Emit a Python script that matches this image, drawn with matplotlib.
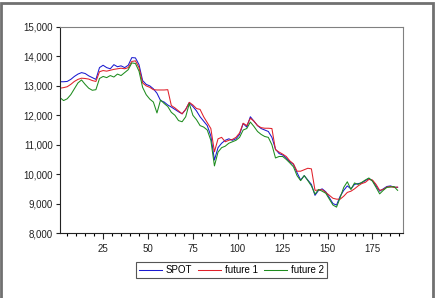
import matplotlib.pyplot as plt
import numpy as np
from matplotlib.patches import Rectangle
from matplotlib.ticker import MultipleLocator, StrMethodFormatter

plt.rcParams['font.family'] = ['Liberation Sans', 'DejaVu Sans']

t = np.arange(1, 190, 2)

spot = [13140, 13140, 13150, 13220, 13320, 13400, 13450, 13420, 13340, 13280,
        13220, 13620, 13700, 13620, 13580, 13720, 13650, 13680, 13620, 13700,
        13960, 13950, 13720, 13180, 13050, 13000, 12900, 12750, 12500, 12450,
        12350, 12280, 12200, 12120, 12050, 12200, 12430, 12300, 12150, 11950,
        11800, 11650, 11300, 10480, 10900, 11050, 11150, 11200, 11150, 11200,
        11350, 11720, 11600, 11950, 11800, 11650, 11550, 11500, 11450, 11250,
        10850, 10700, 10650, 10550, 10420, 10330, 10050, 9800, 9950, 9800,
        9650, 9280, 9450, 9500, 9400, 9200, 9000, 8950, 9250, 9450,
        9600, 9500, 9650, 9680, 9700, 9780, 9850, 9780, 9600, 9420,
        9500, 9580, 9600, 9560, 9550]

future1 = [12920, 12940, 12970, 13050, 13150, 13220, 13260, 13250, 13230, 13180,
           13150, 13480, 13520, 13500, 13530, 13560, 13580, 13600, 13580, 13620,
           13830, 13850, 13620, 13100, 13000, 12950, 12870, 12860, 12860, 12860,
           12870, 12330, 12250, 12150, 12050, 12200, 12440, 12350, 12230, 12200,
           11950, 11750, 11550, 10760, 11200, 11250, 11100, 11150, 11180, 11250,
           11400, 11730, 11650, 11900, 11800, 11650, 11580, 11560, 11560, 11550,
           10830, 10750, 10680, 10600, 10450, 10350, 10100, 10100, 10150, 10200,
           10180, 9450, 9460, 9470, 9380, 9280, 9180, 9150, 9150, 9250,
           9380, 9420, 9500, 9600, 9680, 9720, 9820, 9800, 9650, 9450,
           9480, 9560, 9580, 9550, 9560]

future2 = [12600, 12500, 12560, 12700, 12900, 13100, 13200, 13050, 12920, 12850,
           12870, 13250, 13320, 13280, 13350, 13300, 13400, 13350, 13450, 13550,
           13780, 13760, 13500, 12950, 12700, 12550, 12450, 12080, 12520, 12400,
           12300, 12100, 12000, 11820, 11780, 11950, 12400, 12000, 11850, 11650,
           11600, 11500, 11150, 10280, 10750, 10900, 10950, 11050, 11100, 11150,
           11250, 11500, 11550, 11770, 11620, 11450, 11350, 11280, 11250, 11000,
           10550, 10600, 10600, 10500, 10380, 10250, 9950, 9780, 9950, 9780,
           9600, 9320, 9480, 9420, 9350, 9150, 8950, 8880, 9200, 9550,
           9740, 9480, 9700, 9650, 9720, 9800, 9870, 9760, 9550, 9330,
           9450, 9550, 9560, 9580, 9450]

fig = plt.figure(figsize=(4.36, 2.98), dpi=100)
ax = fig.add_axes([0.1376, 0.2181, 0.7867, 0.6913])

ax.plot(t, spot, color='#1a1ad0', lw=0.75, label='SPOT')
ax.plot(t, future1, color='#e0202a', lw=0.75, label='future 1')
ax.plot(t, future2, color='#1e8c1e', lw=0.75, label='future 2')

ax.set_xlim(1, 192)
ax.set_ylim(8000, 15000)
ax.xaxis.set_major_locator(MultipleLocator(25))
ax.xaxis.set_minor_locator(MultipleLocator(5))
ax.yaxis.set_major_locator(MultipleLocator(1000))
ax.yaxis.set_major_formatter(StrMethodFormatter('{x:,.0f}'))
ax.tick_params(axis='both', labelsize=7, colors='#222222', width=0.8)
ax.tick_params(axis='x', which='major', length=4, pad=4)
ax.tick_params(axis='x', which='minor', length=2, width=0.8)
ax.tick_params(axis='y', length=3, pad=2)

for s in ['left', 'bottom']:
    ax.spines[s].set_color('#222222')
    ax.spines[s].set_linewidth(0.8)
for s in ['top', 'right']:
    ax.spines[s].set_color('#808080')
    ax.spines[s].set_linewidth(0.8)

leg = ax.legend(loc='center', bbox_to_anchor=(0.5, -0.18),
                ncol=3, fontsize=7, frameon=True, fancybox=False, framealpha=1,
                edgecolor='#555555', handlelength=2.4, columnspacing=0.6,
                handletextpad=0.4, borderpad=0.3, borderaxespad=0)
leg.get_frame().set_linewidth(0.8)

# outer frame of the graph
fig.patches.append(Rectangle((1 / 436, -0.05), 432 / 436, 1.04, transform=fig.transFigure,
                             fill=False, edgecolor='#707070', lw=2))

fig.savefig('out.png', dpi=100)
